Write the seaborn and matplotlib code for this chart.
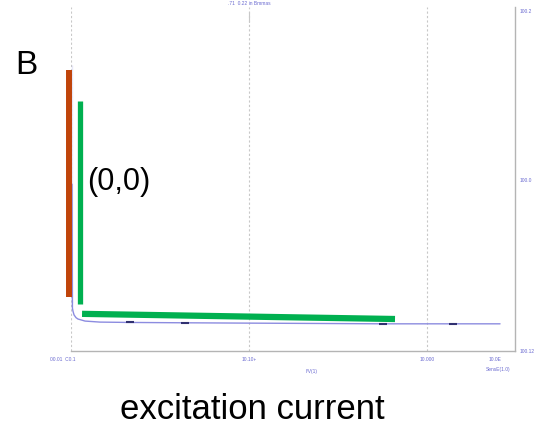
import numpy as np
import pandas as pd
import seaborn as sns
import matplotlib
matplotlib.use("Agg")
import matplotlib.pyplot as plt

# scanned trace (x in decades from the left grid line, y as fraction of the panel)
trace_x = [0.006, 0.006, 0.008, 0.011, 0.017, 0.028, 0.039, 0.079, 0.163, 0.331, 0.64, 1.006, 1.40, 1.753, 2.146, 2.41]
trace_y = [0.83, 0.14, 0.125, 0.116, 0.105, 0.097, 0.093, 0.087, 0.084, 0.083, 0.082, 0.081, 0.080, 0.079, 0.079, 0.079]
marker_x = [0.331, 0.64, 1.753, 2.146]
marker_y = [0.083, 0.082, 0.079, 0.079]

# hand-drawn annotation strokes
red_bar_x = [-0.011, -0.011]
red_bar_y = [0.157, 0.817]
green_bar_x = [0.053, 0.053]
green_bar_y = [0.137, 0.727]
green_base_x = [0.062, 1.82]
green_base_y = [0.108, 0.093]

grid_x = [0, 1, 2]
bottom_labels = ["10.10+", "10.000"]
right_labels = ["100.2", "100.0", "100.12"]

sns.set_style("white")
plt.rcParams['font.family'] = ['Liberation Sans', 'DejaVu Sans']

fig = plt.figure(figsize=(5.34, 4.27), dpi=100)
ax = fig.add_axes([71 / 534, 75 / 427, 444 / 534, 344 / 427])
ax.set_xlim(0, 2.494)
ax.set_ylim(0, 1)

for gx in grid_x:
    ax.axvline(gx, color="#c8c8c8", lw=0.8, ls=(0, (2, 2)), zorder=0)

df = pd.DataFrame({"x": trace_x, "y": trace_y})
sns.lineplot(data=df, x="x", y="y", ax=ax, color="#8c8ce0", lw=1.0, sort=False)
ax.plot(marker_x, marker_y, ls="none", marker="_", ms=6, mew=1.5, color="#303070")

ax.plot(red_bar_x, red_bar_y, color="#c0440a", lw=4.3, solid_capstyle="butt", clip_on=False, zorder=3)
ax.plot(green_bar_x, green_bar_y, color="#00b050", lw=3.8, solid_capstyle="butt", clip_on=False, zorder=3)
ax.plot(green_base_x, green_base_y, color="#00b050", lw=4.5, solid_capstyle="butt", clip_on=False, zorder=3)

for s in ["left", "top"]:
    ax.spines[s].set_visible(False)
for s in ["right", "bottom"]:
    ax.spines[s].set_color("#b4b4b4")
    ax.spines[s].set_linewidth(1.0)
ax.set_xticks([])
ax.set_yticks([])
ax.set_xlabel("")
ax.set_ylabel("")

# faint scanned labels
small = dict(fontsize=3.5, color="#6a6ad0")
ax.text(1.0, 1.005, ".71  0.22 in Bmmas", ha="center", va="bottom", **small)
ax.plot([1.0, 1.0], [0.955, 0.985], color="#c8c8c8", lw=0.8)
ax.text(-0.12, -0.015, "00.01  C0.1", ha="left", va="top", **small)
for gx, lab in zip(grid_x[1:], bottom_labels):
    ax.text(gx, -0.015, lab, ha="center", va="top", **small)
ax.text(2.38, -0.015, "10.0E", ha="center", va="top", **small)
ax.text(2.40, -0.045, "SensE(1.0)", ha="center", va="top", **small)
ax.text(1.35, -0.05, "I/V(1)", ha="center", va="top", **small)
for yy, lab in zip([0.99, 0.50, 0.0], right_labels):
    ax.text(2.52, yy, lab, ha="left", va="center", **small)

fig.text(15 / 534, 1 - 74 / 427, "B", fontsize=24, ha="left", va="baseline", color="black")
fig.text(87 / 534, 1 - 182 / 427, "(0,0)", fontsize=22, ha="left", va="center", color="black")
fig.text(120 / 534, 1 - 419 / 427, "excitation current", fontsize=25, ha="left", va="baseline", color="black")

fig.savefig("out.png", dpi=100, facecolor="white")
